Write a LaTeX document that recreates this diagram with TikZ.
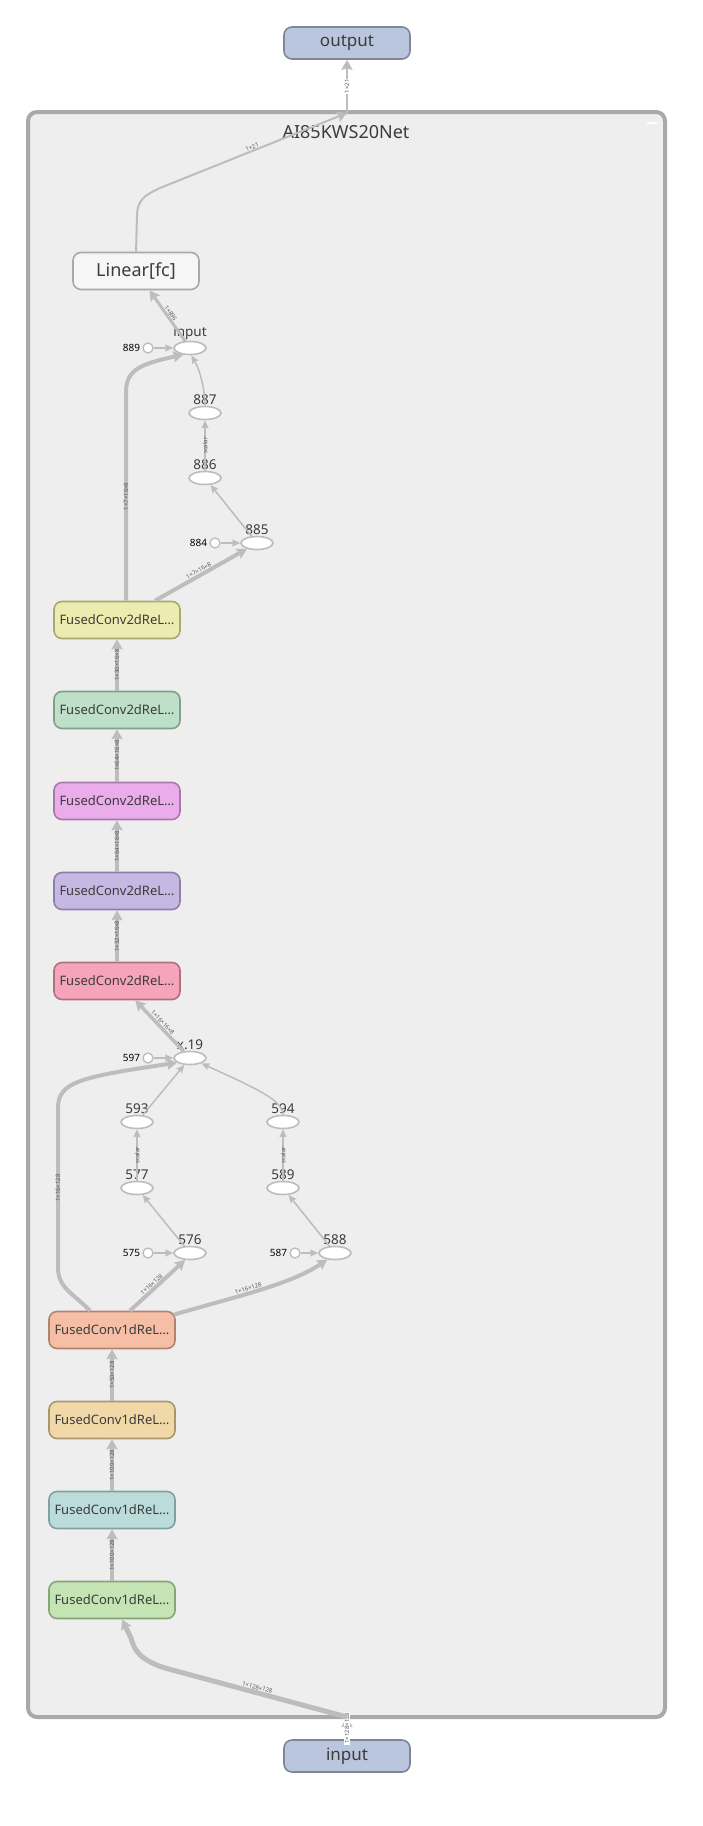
\documentclass[tikz,border=0pt]{standalone}
\usepackage{fontspec}
\setmainfont{Noto Sans}
\usetikzlibrary{arrows.meta,calc,shapes.geometric}

\definecolor{edgec}{HTML}{BDBDBD}
\definecolor{txt}{HTML}{3C3C3C}
\definecolor{lblc}{HTML}{5A5A5A}
\definecolor{grpfill}{HTML}{EEEEEE}
\definecolor{grpdraw}{HTML}{A9A9A9}
\definecolor{iofill}{HTML}{BAC5DE}
\definecolor{iodraw}{HTML}{7E8698}
\definecolor{yellowf}{HTML}{ECECB0}\definecolor{yellowd}{HTML}{A8A870}
\definecolor{greenf}{HTML}{BEDFC8}\definecolor{greend}{HTML}{80A08A}
\definecolor{magf}{HTML}{EAACEA}\definecolor{magd}{HTML}{A878A8}
\definecolor{purf}{HTML}{C6B8E2}\definecolor{purd}{HTML}{8C80A8}
\definecolor{rosef}{HTML}{F5A4BC}\definecolor{rosed}{HTML}{B07080}
\definecolor{oranf}{HTML}{F6BEA4}\definecolor{orand}{HTML}{B08470}
\definecolor{tanf}{HTML}{F0D8A8}\definecolor{tand}{HTML}{AA9670}
\definecolor{tealf}{HTML}{BCDCDC}\definecolor{teald}{HTML}{82A0A0}
\definecolor{lgreenf}{HTML}{C4E4B4}\definecolor{lgreend}{HTML}{88A478}

\tikzset{
  opbox/.style={draw, rounded corners=8pt, line width=1.6pt, minimum width=126pt,
    minimum height=37pt, text=txt, font=\fontsize{13}{15}\selectfont},
  iobox/.style={opbox, minimum height=32pt, fill=iofill, draw=iodraw,
    font=\fontsize{17}{19}\selectfont},
  blob/.style={ellipse, draw=edgec, fill=white, line width=1.6pt, minimum width=32pt,
    minimum height=13pt, inner sep=0pt, label distance=0pt},
  blobname/.style={text=txt, font=\fontsize{13.5}{15}\selectfont, inner sep=1pt},
  cst/.style={circle, draw=edgec, fill=white, line width=1.3pt, minimum size=10pt,
    inner sep=0pt, label={[font=\fontsize{10}{12}\selectfont, inner sep=2pt]left:#1}},
  tensor/.style={draw=edgec, line width=4pt, -{Stealth[length=10pt,width=11pt,inset=1.5pt]}},
  scal/.style={draw=edgec, line width=1.5pt, -{Stealth[length=8pt,width=7pt,inset=1pt]}},
  dims/.style={sloped, font=\fontsize{6}{7}\selectfont, text=lblc, inner sep=0pt}
}

\begin{document}
\begin{tikzpicture}[x=1pt,y=-1pt]
\useasboundingbox[fill=white] (0,0) rectangle (702,1826);

% group
\draw[fill=grpfill, draw=grpdraw, line width=4pt, rounded corners=9pt] (28,112) rectangle (665,1717);
\node[text=txt, font=\fontsize{18}{20}\selectfont] (grp) at (346,132) {AI85KWS20Net};
\draw[white, line width=2pt] (647,123) -- (657,123);
\coordinate (gtop) at (347,113);
\coordinate (gbot) at (347,1717);

% outer nodes
\node[iobox] (out) at (347,43) {output};
\node[iobox] (in) at (347,1756) {input};

% head
\node[opbox, fill=grpfill!50!white, draw=grpdraw, font=\fontsize{18}{20}\selectfont] (lin) at (136,271) {Linear[fc]};
\node[blob, label={[blobname]above:input}] (inp) at (190,348) {};
\node[cst=889] (c889) at (148,348) {};
\node[blob, label={[blobname]above:887}] (n887) at (205,413) {};
\node[blob, label={[blobname]above:886}] (n886) at (205,478) {};
\node[blob, label={[blobname]above:885}] (n885) at (257,543) {};
\node[cst=884] (c884) at (215,543) {};

% conv2d stack
\node[opbox, fill=yellowf, draw=yellowd] (f2a) at (117,620) {FusedConv2dReL…};
\node[opbox, fill=greenf, draw=greend] (f2b) at (117,710) {FusedConv2dReL…};
\node[opbox, fill=magf, draw=magd] (f2c) at (117,801) {FusedConv2dReL…};
\node[opbox, fill=purf, draw=purd] (f2d) at (117,891) {FusedConv2dReL…};
\node[opbox, fill=rosef, draw=rosed] (f2e) at (117,981) {FusedConv2dReL…};

% reshape part
\node[blob, label={[blobname]above:x.19}] (x19) at (190,1058) {};
\node[cst=597] (c597) at (148,1058) {};
\node[blob, label={[blobname]above:593}] (n593) at (137,1122) {};
\node[blob, label={[blobname]above:594}] (n594) at (283,1122) {};
\node[blob, label={[blobname]above:577}] (n577) at (137,1188) {};
\node[blob, label={[blobname]above:589}] (n589) at (283,1188) {};
\node[blob, label={[blobname]above:576}] (n576) at (190,1253) {};
\node[cst=575] (c575) at (148,1253) {};
\node[blob, label={[blobname]above:588}] (n588) at (335,1253) {};
\node[cst=587] (c587) at (295,1253) {};

% conv1d stack
\node[opbox, fill=oranf, draw=orand] (f1d) at (112,1330) {FusedConv1dReL…};
\node[opbox, fill=tanf, draw=tand] (f1c) at (112,1420) {FusedConv1dReL…};
\node[opbox, fill=tealf, draw=teald] (f1b) at (112,1510) {FusedConv1dReL…};
\node[opbox, fill=lgreenf, draw=lgreend] (f1a) at (112,1600) {FusedConv1dReL…};

% edges
\draw[tensor, line width=3pt] (in.north) -- node[dims, fill=white, inner sep=1pt] {1×128×128} (gbot);
\draw[tensor, line width=5pt] (gbot) -- node[dims, above=0.5pt] {1×128×128} (165,1668)
  .. controls (140,1660) and (134,1650) .. (131,1638) -- ($(f1a.south)+(10,0)$);
\draw[tensor] (f1a) -- node[dims] {1×100×128} (f1b);
\draw[tensor] (f1b) -- node[dims] {1×100×128} (f1c);
\draw[tensor] (f1c) -- node[dims] {1×50×128} (f1d);
\draw[tensor] ($(f1d.north)+(-22,0)$) .. controls (74,1294) and (58,1288) .. (58,1268)
  -- node[dims] {1×16×128} (58,1108) .. controls (58,1082) and (80,1077) .. (x19.200);
\draw[tensor] ($(f1d.north)+(18,0)$) -- node[dims, above=0.5pt, pos=0.45] {1×16×128} (n576.235);
\draw[tensor] ($(f1d.north east)+(-2,4)$) .. controls (230,1298) and (290,1285) .. node[dims, above=0.5pt, pos=0.45] {1×16×128} (n588.220);
\draw[scal] (c575) -- (n576);
\draw[scal] (c587) -- (n588);
\draw[scal] (n576) -- (n577);
\draw[scal] (n588) -- (n589);
\draw[scal] (n577) -- node[dims] {scalar} (n593);
\draw[scal] (n589) -- node[dims] {scalar} (n594);
\draw[scal] (n593) -- (x19);
\draw[scal] (n594.north) .. controls (283,1100) and (255,1088) .. (x19.-25);
\draw[scal] (c597) -- (x19);
\draw[tensor, line width=3.5pt] (x19) -- node[dims, above=0.5pt] {1×16×16×8} (f2e);
\draw[tensor] (f2e) -- node[dims] {1×32×16×8} (f2d);
\draw[tensor] (f2d) -- node[dims] {1×64×16×8} (f2c);
\draw[tensor] (f2c) -- node[dims] {1×64×16×8} (f2b);
\draw[tensor] (f2b) -- node[dims] {1×30×16×8} (f2a);
\draw[tensor] ($(f2a.north)+(9,0)$) -- node[dims] {1×7×16×8} (126,392)
  .. controls (126,370) and (140,364) .. (inp.225);
\draw[tensor] ($(f2a.north)+(38,0)$) -- node[dims, above=0.5pt] {1×7×16×8} (n885.210);
\draw[scal] (c884) -- (n885);
\draw[scal] (n885) -- (n886);
\draw[scal] (n886) -- node[dims] {scalar} (n887);
\draw[scal] (n887.north) .. controls (205,390) and (200,370) .. (inp.-80);
\draw[scal] (c889) -- (inp);
\draw[tensor, line width=3pt] (inp) -- node[dims, above=0.5pt] {1×896} (lin);
\draw[tensor, line width=2pt] (lin.north) -- (137,216) .. controls (137,200) and (145,195) .. (160,188)
  -- node[dims, above=0.5pt] {1×21} (gtop);
\draw[tensor, line width=2pt] (gtop) -- node[dims, fill=white, inner sep=1pt] {1×21} (out.south);
\end{tikzpicture}
\end{document}
